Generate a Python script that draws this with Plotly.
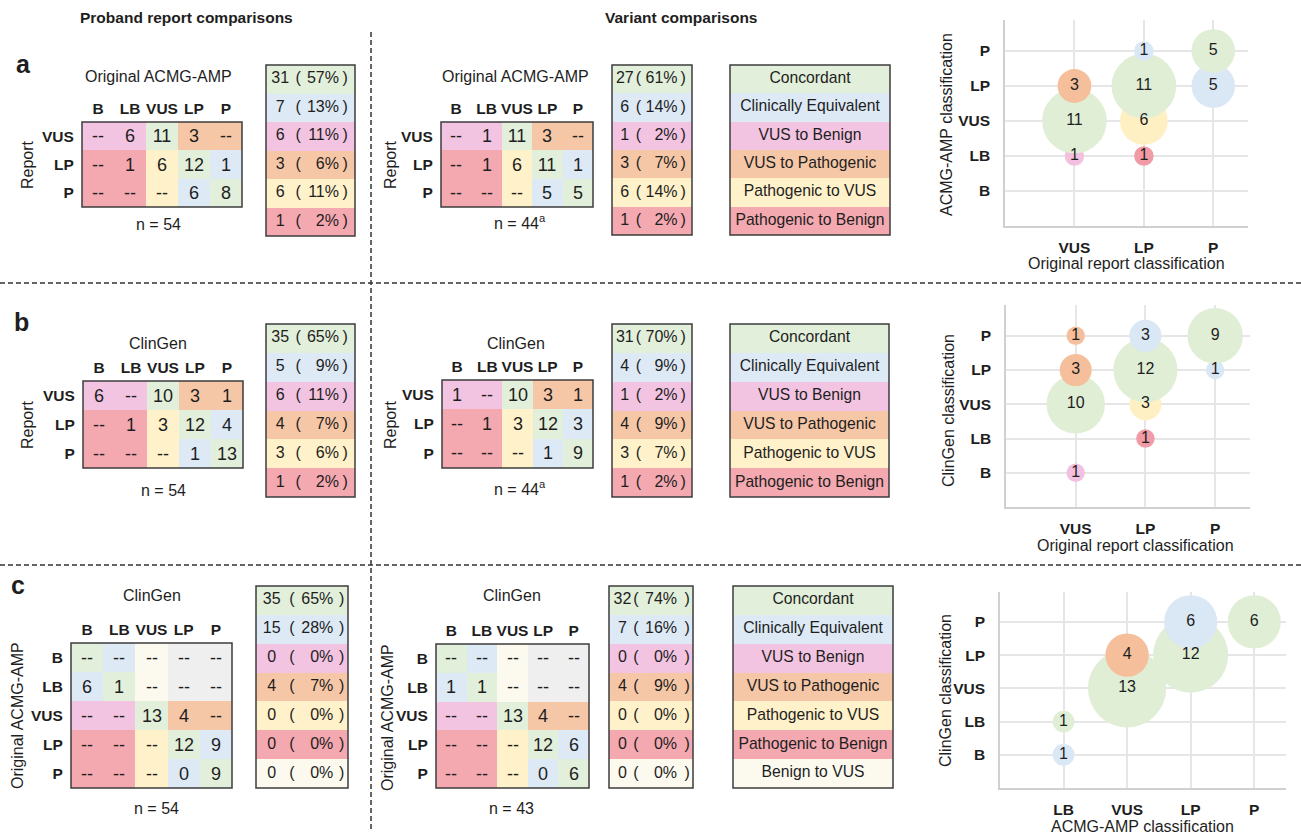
import math
import plotly.graph_objects as go

W, H = 1301, 838
FONT = "Liberation Sans, Arial, Helvetica, sans-serif"
INK = "#1e1e1e"

# ---------------- data ----------------
CLASSES = ["B", "LB", "VUS", "LP", "P"]
REPORT_ROWS = ["VUS", "LP", "P"]
ACMG_ROWS = ["B", "LB", "VUS", "LP", "P"]

CATEGORY_NAMES = ["Concordant", "Clinically Equivalent", "VUS to Benign", "VUS to Pathogenic",
                  "Pathogenic to VUS", "Pathogenic to Benign", "Benign to VUS", "Not applicable"]
CATEGORY_COLORS = ["#e2efda", "#dde9f5", "#f3c4e1", "#f6c7a6", "#fff1c9", "#f4a8b0", "#fcfaef", "#efefef"]
BUBBLE_COLORS = ["#e0eed6", "#dae7f4", "#f2c1df", "#f5bf9c", "#fff0c4", "#f19ba6", "#fcfaef", "#efefef"]
CONC, CLIN, V2B, V2P, P2V, P2B, B2V, NA = range(8)

REPORT_CATS = [[V2B, V2B, CONC, V2P, V2P],
               [P2B, P2B, P2V, CONC, CLIN],
               [P2B, P2B, P2V, CLIN, CONC]]
ACMG_CATS = [[CONC, CLIN, B2V, NA, NA],
             [CLIN, CONC, B2V, NA, NA],
             [V2B, V2B, CONC, V2P, V2P],
             [P2B, P2B, P2V, CONC, CLIN],
             [P2B, P2B, P2V, CLIN, CONC]]

a_proband_cells = [["--", "6", "11", "3", "--"], ["--", "1", "6", "12", "1"], ["--", "--", "--", "6", "8"]]
a_variant_cells = [["--", "1", "11", "3", "--"], ["--", "1", "6", "11", "1"], ["--", "--", "--", "5", "5"]]
b_proband_cells = [["6", "--", "10", "3", "1"], ["--", "1", "3", "12", "4"], ["--", "--", "--", "1", "13"]]
b_variant_cells = [["1", "--", "10", "3", "1"], ["--", "1", "3", "12", "3"], ["--", "--", "--", "1", "9"]]
c_proband_cells = [["--", "--", "--", "--", "--"], ["6", "1", "--", "--", "--"], ["--", "--", "13", "4", "--"],
                   ["--", "--", "--", "12", "9"], ["--", "--", "--", "0", "9"]]
c_variant_cells = [["--", "--", "--", "--", "--"], ["1", "1", "--", "--", "--"], ["--", "--", "13", "4", "--"],
                   ["--", "--", "--", "12", "6"], ["--", "--", "--", "0", "6"]]

a_proband_counts = [31, 7, 6, 3, 6, 1]
a_proband_pct = [57, 13, 11, 6, 11, 2]
a_variant_counts = [27, 6, 1, 3, 6, 1]
a_variant_pct = [61, 14, 2, 7, 14, 2]
b_proband_counts = [35, 5, 6, 4, 3, 1]
b_proband_pct = [65, 9, 11, 7, 6, 2]
b_variant_counts = [31, 4, 1, 4, 3, 1]
b_variant_pct = [70, 9, 2, 9, 7, 2]
c_proband_counts = [35, 15, 0, 4, 0, 0, 0]
c_proband_pct = [65, 28, 0, 7, 0, 0, 0]
c_variant_counts = [32, 7, 0, 4, 0, 0, 0]
c_variant_pct = [74, 16, 0, 9, 0, 0, 0]

a_bub_x = ["VUS", "VUS", "VUS", "LP", "LP", "LP", "LP", "P", "P"]
a_bub_y = ["LB", "VUS", "LP", "LB", "VUS", "LP", "P", "LP", "P"]
a_bub_n = [1, 11, 3, 1, 6, 11, 1, 5, 5]
a_bub_cat = [V2B, CONC, V2P, P2B, P2V, CONC, CLIN, CLIN, CONC]

b_bub_x = ["VUS", "VUS", "VUS", "VUS", "LP", "LP", "LP", "LP", "P", "P"]
b_bub_y = ["B", "VUS", "LP", "P", "LB", "VUS", "LP", "P", "LP", "P"]
b_bub_n = [1, 10, 3, 1, 1, 3, 12, 3, 1, 9]
b_bub_cat = [V2B, CONC, V2P, V2P, P2B, P2V, CONC, CLIN, CLIN, CONC]

c_bub_x = ["LB", "LB", "VUS", "VUS", "LP", "LP", "P"]
c_bub_y = ["B", "LB", "VUS", "LP", "LP", "P", "P"]
c_bub_n = [1, 1, 13, 4, 12, 6, 6]
c_bub_cat = [CLIN, CONC, CONC, V2P, CONC, CLIN, CONC]

# ---------------- helpers ----------------
COLORSCALE = []
for i, c in enumerate(CATEGORY_COLORS):
    COLORSCALE.append([i / 8, c])
    COLORSCALE.append([(i + 1) / 8, c])

fig = go.Figure()
axes_layout = {}
shapes = []
annotations = []
counter = [0]


def new_axes(px0, py0, px1, py1, xkw, ykw):
    counter[0] += 1
    i = counter[0]
    s = "" if i == 1 else str(i)
    axes_layout["xaxis" + s] = dict(domain=[px0 / W, px1 / W], anchor="y" + s, fixedrange=True, **xkw)
    axes_layout["yaxis" + s] = dict(domain=[1 - py1 / H, 1 - py0 / H], anchor="x" + s, fixedrange=True, **ykw)
    return "x" + s, "y" + s


def border(xa, ya):
    shapes.append(dict(type="rect", xref=xa + " domain", yref=ya + " domain", x0=0, x1=1, y0=0, y1=1,
                       line=dict(color="#3c3c3c", width=1.5), fillcolor="rgba(0,0,0,0)", layer="above"))


def ann(text, px, py, size=16, bold=False, angle=0, xanchor="center"):
    annotations.append(dict(text=("<b>%s</b>" % text) if bold else text, x=px / W, y=1 - py / H,
                            xref="paper", yref="paper", showarrow=False, textangle=angle,
                            xanchor=xanchor, yanchor="middle",
                            font=dict(size=size, color=INK, family=FONT)))


HIDDEN = dict(visible=False, showgrid=False, zeroline=False)
HEAD_FONT = dict(size=15.5, color=INK, family=FONT)


def add_matrix(box, cells, cats, rows):
    x0, y0, x1, y1 = box
    n = len(rows)
    xa, ya = new_axes(
        x0, y0, x1, y1,
        dict(range=[-0.5, 4.5], side="top", tickvals=list(range(5)),
             ticktext=["<b>%s</b>" % c for c in CLASSES], showgrid=False, zeroline=False, showline=False,
             ticks="outside", ticklen=1, tickcolor="rgba(0,0,0,0)", tickfont=HEAD_FONT),
        dict(range=[n - 0.5, -0.5], tickvals=list(range(n)), ticktext=["<b>%s</b>" % r for r in rows],
             showgrid=False, zeroline=False, showline=False, ticks="outside", ticklen=4,
             tickcolor="rgba(0,0,0,0)", tickfont=HEAD_FONT))
    fig.add_trace(go.Heatmap(z=cats, x=list(range(5)), y=list(range(n)), text=cells, texttemplate="%{text}",
                             textfont=dict(size=18, color=INK, family=FONT), colorscale=COLORSCALE,
                             zmin=-0.5, zmax=7.5, showscale=False, hoverinfo="skip", xgap=0, ygap=0,
                             xaxis=xa, yaxis=ya))
    border(xa, ya)


def add_counts(box, counts, pcts, pos):
    x0, y0, x1, y1 = box
    n = len(counts)
    xa, ya = new_axes(x0, y0, x1, y1, dict(range=[0, 1], **HIDDEN), dict(range=[n - 0.5, -0.5], **HIDDEN))
    fig.add_trace(go.Heatmap(z=[[i] for i in range(n)], x=[0, 1], y=[i - 0.5 for i in range(n + 1)],
                             colorscale=COLORSCALE, zmin=-0.5, zmax=7.5, showscale=False, hoverinfo="skip",
                             xaxis=xa, yaxis=ya))
    tf = dict(size=16, color=INK, family=FONT)
    rows = list(range(n))
    fig.add_trace(go.Scatter(x=[pos[0]] * n, y=rows, mode="text", text=[str(c) for c in counts],
                             textposition="middle center", textfont=tf, hoverinfo="skip", xaxis=xa, yaxis=ya))
    fig.add_trace(go.Scatter(x=[pos[1]] * n, y=rows, mode="text", text=["("] * n,
                             textposition="middle center", textfont=tf, hoverinfo="skip", xaxis=xa, yaxis=ya))
    fig.add_trace(go.Scatter(x=[pos[2]] * n, y=rows, mode="text", text=["%d%%" % p for p in pcts],
                             textposition="middle left", textfont=tf, hoverinfo="skip", xaxis=xa, yaxis=ya))
    fig.add_trace(go.Scatter(x=[pos[3]] * n, y=rows, mode="text", text=[")"] * n,
                             textposition="middle center", textfont=tf, hoverinfo="skip", xaxis=xa, yaxis=ya))
    border(xa, ya)


def add_legend(box, n):
    x0, y0, x1, y1 = box
    xa, ya = new_axes(x0, y0, x1, y1, dict(range=[0, 1], **HIDDEN), dict(range=[n - 0.5, -0.5], **HIDDEN))
    fig.add_trace(go.Heatmap(z=[[i] for i in range(n)], x=[0, 1], y=[i - 0.5 for i in range(n + 1)],
                             colorscale=COLORSCALE, zmin=-0.5, zmax=7.5, showscale=False, hoverinfo="skip",
                             xaxis=xa, yaxis=ya))
    fig.add_trace(go.Scatter(x=[0.5] * n, y=list(range(n)), mode="text", text=CATEGORY_NAMES[:n],
                             textposition="middle center", textfont=dict(size=15.7, color=INK, family=FONT),
                             hoverinfo="skip", xaxis=xa, yaxis=ya))
    border(xa, ya)


def add_bubbles(box, xrange_, xcats, xs, ys, ns, cats, unit):
    x0, y0, x1, y1 = box
    common = dict(showgrid=True, gridcolor="#e6e6e6", gridwidth=1.5, showline=True, linecolor="#d0d0d0",
                  linewidth=1.5, zeroline=False, ticks="outside", tickcolor="rgba(0,0,0,0)",
                  tickfont=HEAD_FONT)
    xa, ya = new_axes(
        x0, y0, x1, y1,
        dict(range=xrange_, tickvals=[CLASSES.index(c) for c in xcats],
             ticktext=["<b>%s</b>" % c for c in xcats], ticklen=7, **common),
        dict(range=[-1, 4.9], tickvals=list(range(5)), ticktext=["<b>%s</b>" % c for c in CLASSES],
             ticklen=10, **common))
    fig.add_trace(go.Scatter(
        x=[CLASSES.index(v) for v in xs], y=[CLASSES.index(v) for v in ys], mode="markers+text",
        text=[str(v) for v in ns], textposition="middle center",
        textfont=dict(size=16, color=INK, family=FONT),
        marker=dict(size=[unit * math.sqrt(v) for v in ns], sizemode="diameter",
                    color=[BUBBLE_COLORS[c] for c in cats], opacity=1, line=dict(width=0)),
        cliponaxis=False, hoverinfo="skip", xaxis=xa, yaxis=ya))


# ---------------- panel a ----------------
add_matrix((82, 122, 242, 207), a_proband_cells, REPORT_CATS, REPORT_ROWS)
add_counts((266, 65, 355, 236), a_proband_counts, a_proband_pct, (0.16, 0.36, 0.82, 0.89))
add_matrix((441, 122, 593, 207), a_variant_cells, REPORT_CATS, REPORT_ROWS)
add_counts((612, 65, 692, 235), a_variant_counts, a_variant_pct, (0.16, 0.33, 0.82, 0.89))
add_legend((730, 65, 890, 235), 6)
add_bubbles((1005, 19.5, 1248, 226), [1, 4.5], ["VUS", "LP", "P"], a_bub_x, a_bub_y, a_bub_n, a_bub_cat, 19.5)

# ---------------- panel b ----------------
add_matrix((83, 381, 243, 468), b_proband_cells, REPORT_CATS, REPORT_ROWS)
add_counts((266, 324, 355, 497), b_proband_counts, b_proband_pct, (0.16, 0.36, 0.82, 0.89))
add_matrix((442, 380, 593, 468), b_variant_cells, REPORT_CATS, REPORT_ROWS)
add_counts((612, 324, 692, 497), b_variant_counts, b_variant_pct, (0.16, 0.33, 0.82, 0.89))
add_legend((730, 324, 889, 497), 6)
add_bubbles((1006, 305, 1250, 507), [1, 4.5], ["VUS", "LP", "P"], b_bub_x, b_bub_y, b_bub_n, b_bub_cat, 18.5)

# ---------------- panel c ----------------
add_matrix((71, 643, 232, 788), c_proband_cells, ACMG_CATS, ACMG_ROWS)
add_counts((256, 586, 348, 788), c_proband_counts, c_proband_pct, (0.17, 0.39, 0.84, 0.93))
add_matrix((436, 644, 589, 788), c_variant_cells, ACMG_CATS, ACMG_ROWS)
add_counts((609, 586, 693, 788), c_variant_counts, c_variant_pct, (0.16, 0.32, 0.81, 0.93))
add_legend((733, 586, 893, 788), 7)
add_bubbles((1000, 592, 1286, 788), [0, 4.5], ["LB", "VUS", "LP", "P"], c_bub_x, c_bub_y, c_bub_n, c_bub_cat, 21.7)

# ---------------- text ----------------
ann("Proband report comparisons", 186, 17, size=15.5, bold=True)
ann("Variant comparisons", 681, 17, size=15.5, bold=True)
ann("a", 23, 64, size=25, bold=True)
ann("b", 21, 322, size=25, bold=True)
ann("c", 18, 585, size=25, bold=True)

ann("Original ACMG-AMP", 158, 77)
ann("Original ACMG-AMP", 515, 77)
ann("Report", 27, 165, angle=-90)
ann("Report", 390, 165, angle=-90)
ann("n = 54", 158, 224)
ann("n = 44<sup>a</sup>", 520, 222)

ann("ClinGen", 158, 343)
ann("ClinGen", 516, 343)
ann("Report", 27, 425, angle=-90)
ann("Report", 390, 425, angle=-90)
ann("n = 54", 163, 490)
ann("n = 44<sup>a</sup>", 520, 488)

ann("ClinGen", 152, 595)
ann("ClinGen", 512, 595)
ann("Original ACMG-AMP", 17, 716, angle=-90)
ann("Original ACMG-AMP", 387, 718, angle=-90)
ann("n = 54", 156, 808)
ann("n = 43", 511, 808)

ann("ACMG-AMP classification", 947, 125, angle=-90)
ann("Original report classification", 1126, 263)
ann("ClinGen classification", 948, 411, angle=-90)
ann("Original report classification", 1135, 545)
ann("ClinGen classification", 945, 691, angle=-90)
ann("ACMG-AMP classification", 1142, 826)

# ---------------- dashed separators ----------------
DASH = dict(color="#333333", width=1.5, dash="5px,3px")
shapes.append(dict(type="line", xref="paper", yref="paper", x0=371 / W, x1=371 / W, y0=1 - 32 / H, y1=1 - 832 / H, line=DASH))
shapes.append(dict(type="line", xref="paper", yref="paper", x0=0, x1=1, y0=1 - 283 / H, y1=1 - 283 / H, line=DASH))
shapes.append(dict(type="line", xref="paper", yref="paper", x0=0, x1=1, y0=1 - 565 / H, y1=1 - 565 / H, line=DASH))

fig.update_layout(
    template="none",
    width=W, height=H,
    margin=dict(l=0, r=0, t=0, b=0),
    paper_bgcolor="white", plot_bgcolor="rgba(0,0,0,0)",
    showlegend=False,
    font=dict(family=FONT, color=INK),
    shapes=shapes, annotations=annotations,
    **axes_layout,
)

fig.write_html("out.html", config={"displayModeBar": False},
               post_script="document.body.style.margin='0';")
